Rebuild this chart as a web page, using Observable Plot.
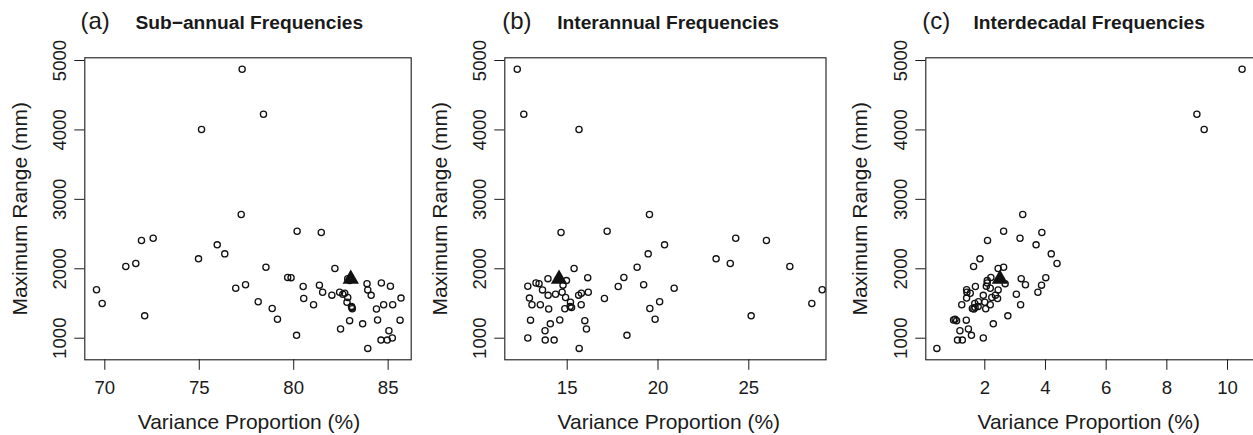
<!DOCTYPE html>
<html><head><meta charset="utf-8">
<script src="https://cdn.jsdelivr.net/npm/d3@7"></script>
<script src="https://cdn.jsdelivr.net/npm/@observablehq/plot@0.6"></script>
<style>
html,body{margin:0;padding:0;background:#fff;overflow:hidden;}
#wrap{position:relative;width:1253px;height:435px;overflow:hidden;background:#fff;}
#wrap svg{position:absolute;top:0;}
</style></head><body><div id="wrap"></div>
<script>
// ---- data (one entry per station) ----
const maxRange = [4875, 4226, 4006, 2782, 2541, 2522, 2440, 2407, 2345, 2215, 2143, 2076, 2033, 2023, 2004, 1874, 1872, 1858, 1830, 1795, 1786, 1769, 1764, 1748, 1744, 1720, 1697, 1696, 1661, 1662, 1648, 1634, 1620, 1617, 1587, 1578, 1571, 1525, 1519, 1500, 1483, 1483, 1483, 1458, 1444, 1425, 1428, 1421, 1322, 1273, 1263, 1260, 1253, 1207, 1132, 1108, 1041, 1004, 973, 973, 853];
const subAnnual = [77.27, 78.40, 75.12, 77.22, 80.18, 81.46, 72.56, 71.94, 75.95, 76.35, 74.96, 71.64, 71.11, 78.53, 82.18, 79.68, 79.86, 82.86, 82.96, 84.64, 83.88, 77.45, 81.36, 85.12, 80.50, 76.93, 69.56, 83.92, 81.53, 82.43, 82.70, 82.60, 82.02, 84.10, 82.86, 85.68, 80.53, 78.12, 82.82, 69.86, 81.05, 84.76, 85.24, 83.06, 83.08, 83.10, 78.86, 84.38, 72.11, 79.14, 84.44, 85.63, 82.96, 83.65, 82.48, 85.04, 80.15, 85.22, 84.62, 84.95, 83.92];
const interannual = [12.25, 12.61, 15.65, 19.53, 17.20, 14.66, 24.28, 25.97, 20.36, 19.46, 23.20, 23.98, 27.26, 18.85, 15.38, 18.12, 16.13, 13.94, 14.96, 13.28, 13.45, 19.21, 14.77, 12.83, 17.81, 20.89, 29.04, 13.64, 14.72, 16.16, 15.78, 14.36, 15.63, 13.95, 14.91, 12.92, 17.05, 20.09, 15.18, 28.47, 15.77, 13.06, 13.52, 15.16, 15.24, 14.87, 19.55, 13.98, 25.13, 19.84, 14.59, 12.98, 15.97, 14.07, 16.06, 13.78, 18.29, 12.83, 14.28, 13.79, 15.66];
const interdecadal = [10.48, 8.99, 9.23, 3.25, 2.62, 3.88, 3.16, 2.09, 3.69, 4.19, 1.84, 4.38, 1.63, 2.62, 2.44, 2.20, 4.01, 3.20, 2.08, 2.08, 2.67, 3.34, 3.87, 2.05, 1.69, 2.18, 1.40, 2.44, 3.75, 1.41, 1.52, 3.04, 2.35, 1.95, 2.23, 1.40, 2.42, 1.79, 2.00, 1.67, 3.18, 2.18, 1.24, 1.78, 1.68, 2.03, 1.59, 1.64, 2.76, 1.02, 0.97, 1.39, 1.07, 2.28, 1.46, 1.18, 1.56, 1.95, 1.10, 1.26, 0.42];

// highlighted (triangle) point
const markerRange = [1852];
const markerSub = [83.02];
const markerInter = [14.55];
const markerDec = [2.50];

// ticks and labels
const yTicks = [1000, 2000, 3000, 4000, 5000];
const xTicksSub = [70, 75, 80, 85];
const xTicksInter = [15, 20, 25];
const xTicksDec = [2, 4, 6, 8, 10];
const panelTags = ["(a)", "(b)", "(c)"];
const panelTitles = ["Sub\u2212annual Frequencies", "Interannual Frequencies", "Interdecadal Frequencies"];
const xLabel = "Variance Proportion (%)";
const yLabel = "Maximum Range (mm)";

// ---- layout ----
const FONT = "'Liberation Sans', Arial, Helvetica, sans-serif";
const INK = "#1a1a1a";
const layouts = [
  {left: 0,   ml: 84.3, mr: 9.3,  xDomain: [68.94, 86.22],  tagX: 80,   titleX: 135,   labelDx: 1},
  {left: 420, ml: 84.3, mr: 14.5, xDomain: [11.564, 29.251], tagX: 81.7, titleX: 136.7, labelDx: 3.4},
  {left: 840, ml: 85.3, mr: 4,    xDomain: [0.0554, 10.955], tagX: 81.7, titleX: 133,   labelDx: -2.4}
];
const series = [subAnnual, interannual, interdecadal];
const markers = [markerSub, markerInter, markerDec];
const tickSets = [xTicksSub, xTicksInter, xTicksDec];

const MT = 57.3, MB = 75.7;
const wrap = document.getElementById("wrap");

layouts.forEach((L, k) => {
  const rows = maxRange.map((y, i) => ({x: series[k][i], y}));
  const mk = markerRange.map((y, i) => ({x: markers[k][i], y}));
  const svg = Plot.plot({
    width: 420, height: 435,
    marginLeft: L.ml, marginRight: L.mr, marginTop: MT, marginBottom: MB,
    x: {domain: L.xDomain},
    y: {domain: [689, 5039]},
    style: {fontFamily: FONT, fontSize: "18.6px", color: INK, background: "transparent", overflow: "visible"},
    marks: [
      Plot.frame({stroke: INK, strokeWidth: 1.1}),
      Plot.axisX({ticks: tickSets[k], tickSize: 10.5, tickPadding: 10.2, fontSize: 18.6, label: null, tickFormat: d => String(d)}),
      Plot.axisY({ticks: yTicks, tickSize: 10, tickPadding: 9, tickRotate: -90, fontSize: 18.6, label: null, tickFormat: d => String(d)}),
      Plot.dot(rows, {x: "x", y: "y", r: 3.1, stroke: "#111", strokeWidth: 1.3, fill: "none"}),
      Plot.dot(mk, {x: "x", y: "y", r: 6.1, symbol: "triangle", fill: "#111", stroke: "none"}),
      Plot.text([xLabel], {text: d => d, frameAnchor: "bottom", dy: 69, dx: L.labelDx, textAnchor: "middle", lineAnchor: "bottom", fontSize: 21}),
      Plot.text([yLabel], {text: d => d, frameAnchor: "left", dx: 26.7 - L.ml, rotate: -90, textAnchor: "middle", lineAnchor: "bottom", fontSize: 21}),
      Plot.text([panelTags[k]], {text: d => d, frameAnchor: "top-left", dx: L.tagX - L.ml, dy: 28.3 - MT, textAnchor: "start", lineAnchor: "bottom", fontSize: 24}),
      Plot.text([panelTitles[k]], {text: d => d, frameAnchor: "top-left", dx: L.titleX - L.ml, dy: 28.3 - MT, textAnchor: "start", lineAnchor: "bottom", fontSize: 19.2, fontWeight: "bold"})
    ]
  });
  svg.style.left = L.left + "px";
  wrap.appendChild(svg);
});
</script>
</body></html>
